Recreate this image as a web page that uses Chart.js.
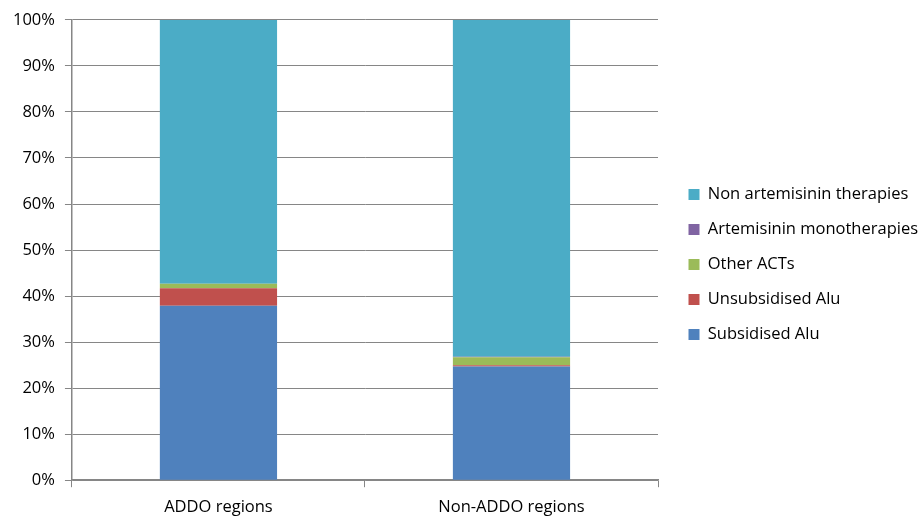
<!DOCTYPE html>
<html>
<head>
<meta charset="utf-8">
<script src="https://cdn.jsdelivr.net/npm/chart.js@4.4.0/dist/chart.umd.min.js"></script>
<style>
    html, body { margin: 0; padding: 0; background: #ffffff; }
    #wrap { width: 922px; height: 517px; }
</style>
</head>
<body>
<div id="wrap"><canvas id="antimalarialChart"></canvas></div>
<script>
// Market share by region (% of antimalarials)
var regions = ['ADDO regions', 'Non-ADDO regions'];
var subsidisedAlu = [37.9, 24.7];
var unsubsidisedAlu = [3.8, 0.3];
var otherACTs = [1.0, 1.7];
var artemisininMono = [0.0, 0.1];
var nonArtemisinin = [57.3, 73.2];
var yTicks = ['0%', '10%', '20%', '30%', '40%', '50%', '60%', '70%', '80%', '90%', '100%'];

var fontName = 'Open Sans';
var fontSize = 16.5;

function makeSet(label, data, color) {
    return {
        label: label,
        data: data,
        backgroundColor: color,
        borderWidth: 0,
        barPercentage: 0.4,
        categoryPercentage: 1.0
    };
}

// fixed legend width so the plot area ends where the original does,
// and nudge the legend items a bit to the right
var legendWidth = {
    id: 'legendWidth',
    beforeInit: function (chart) {
        var origFit = chart.legend.fit;
        chart.legend.fit = function () {
            origFit.bind(chart.legend)();
            this.width = 264;
        };
        var origDraw = chart.legend.draw;
        chart.legend.draw = function () {
            var c = this.ctx;
            c.save();
            c.translate(12, -2);
            origDraw.apply(this, arguments);
            c.restore();
        };
    },
    // push the category labels a little lower without shrinking the plot
    beforeDraw: function (chart) {
        var xScale = chart.scales.x;
        if (xScale && !xScale._shifted) {
            var origLabels = xScale.drawLabels;
            xScale.drawLabels = function (area) {
                var c = this.ctx;
                c.save();
                c.translate(0, 5);
                origLabels.call(this, area);
                c.restore();
            };
            xScale._shifted = true;
        }
    }
};

var ctx = document.getElementById('antimalarialChart').getContext('2d');
var antimalarialChart = new Chart(ctx, {
    type: 'bar',
    data: {
        labels: regions,
        datasets: [
            makeSet('Subsidised Alu', subsidisedAlu, '#4f81bd'),
            makeSet('Unsubsidised Alu', unsubsidisedAlu, '#c0504d'),
            makeSet('Other ACTs', otherACTs, '#9bbb59'),
            makeSet('Artemisinin monotherapies', artemisininMono, '#8064a2'),
            makeSet('Non artemisinin therapies', nonArtemisinin, '#4bacc6')
        ]
    },
    plugins: [legendWidth],
    options: {
        responsive: true,
        maintainAspectRatio: false,
        animation: false,
        layout: {
            padding: { left: 3, right: 0, top: 16, bottom: 0 }
        },
        plugins: {
            tooltip: { enabled: false },
            legend: {
                display: true,
                position: 'right',
                reverse: true,
                align: 'center',
                labels: {
                    color: '#000000',
                    boxWidth: 11,
                    boxHeight: 11,
                    padding: 18.5,
                    font: { family: fontName, size: fontSize }
                }
            }
        },
        scales: {
            x: {
                stacked: true,
                grid: {
                    offset: true,
                    drawOnChartArea: false,
                    color: '#868686',
                    tickLength: 7,
                    tickColor: '#868686'
                },
                border: { color: '#868686', width: 1.5 },
                ticks: {
                    color: '#000000',
                    padding: 5,
                    font: { family: fontName, size: fontSize }
                }
            },
            y: {
                stacked: true,
                min: 0,
                max: 100,
                grid: {
                    color: '#868686',
                    lineWidth: 1,
                    tickLength: 7,
                    tickColor: '#868686'
                },
                border: { color: '#868686', width: 1.5 },
                ticks: {
                    stepSize: 10,
                    color: '#000000',
                    padding: 10,
                    font: { family: fontName, size: fontSize },
                    callback: function (value, index) {
                        return yTicks[index];
                    }
                }
            }
        }
    }
});
</script>
</body>
</html>
